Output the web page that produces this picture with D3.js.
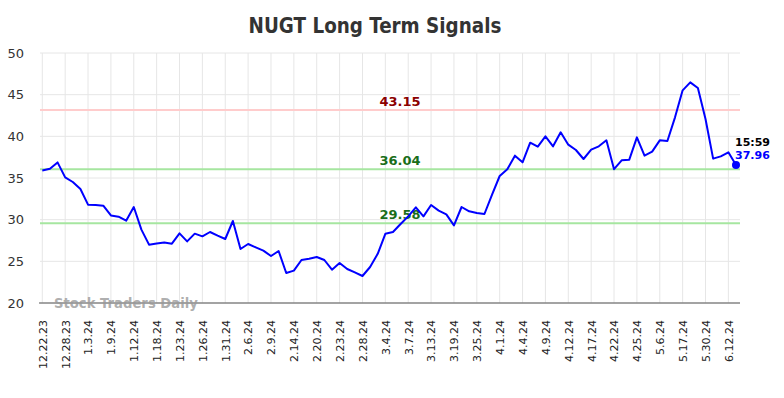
<!DOCTYPE html>
<html>
<head>
<meta charset="utf-8">
<script src="https://cdn.jsdelivr.net/npm/d3@7/dist/d3.min.js"></script>
<style>
  html, body { margin: 0; padding: 0; background: #fff; }
  svg { display: block; }
</style>
</head>
<body>
<svg id="chart" width="784" height="398"></svg>
<script>
const tickLabels = ["12.22.23","12.28.23","1.3.24","1.9.24","1.12.24","1.18.24","1.23.24","1.26.24","1.31.24","2.6.24","2.9.24","2.14.24","2.20.24","2.23.24","2.28.24","3.4.24","3.7.24","3.13.24","3.19.24","3.25.24","4.1.24","4.4.24","4.9.24","4.12.24","4.17.24","4.22.24","4.25.24","5.6.24","5.17.24","5.30.24","6.12.24"];
const prices = [35.91,36.12,36.87,35.07,34.52,33.68,31.80,31.76,31.68,30.51,30.36,29.88,31.52,28.80,27.00,27.15,27.27,27.12,28.35,27.39,28.32,28.00,28.52,28.08,27.68,29.84,26.48,27.08,26.67,26.28,25.64,26.24,23.60,23.88,25.16,25.32,25.52,25.16,24.00,24.80,24.08,23.67,23.24,24.32,25.90,28.30,28.52,29.48,30.40,31.48,30.40,31.76,31.08,30.64,29.32,31.52,31.00,30.80,30.68,33.00,35.24,36.04,37.68,36.88,39.24,38.76,40.00,38.80,40.48,39.00,38.36,37.28,38.40,38.80,39.52,36.06,37.12,37.20,39.88,37.68,38.16,39.52,39.44,42.28,45.52,46.48,45.80,42.08,37.32,37.60,38.08,36.56];
const yTicks = [20,25,30,35,40,45,50];
const levels = [
  {value: 43.15, line: "#ffcccc", text: "#8b0000"},
  {value: 36.04, line: "#a6e6a0", text: "#1a6e1a"},
  {value: 29.58, line: "#a6e6a0", text: "#1a6e1a"}
];
const lastTime = "15:59";
const lastLabel = "37.96";
const tickEvery = 3;

(function () {
const svg = d3.select("#chart");
const pLeft = 40, pRight = 740, pTop = 53, pBottom = 303;
const x = d3.scaleLinear().domain([0, prices.length - 1]).range([42.3, 736]);
const y = d3.scaleLinear().domain([20, 50]).range([pBottom, pTop]);

// title
svg.append("text").attr("x", 375).attr("y", 33).attr("text-anchor", "middle")
  .attr("font-family", "DejaVu Sans Condensed, DejaVu Sans").attr("font-weight", "bold")
  .attr("font-stretch", "condensed")
  .attr("font-size", 20.4).attr("fill", "#333").text("NUGT Long Term Signals");

// horizontal grid
svg.append("g").selectAll("line").data(yTicks).join("line")
  .attr("x1", pLeft).attr("x2", pRight)
  .attr("y1", d => y(d)).attr("y2", d => y(d))
  .attr("stroke", "#e6e6e6").attr("stroke-width", 1);

// vertical grid
const tickIdx = tickLabels.map((_, i) => i * tickEvery);
svg.append("g").selectAll("line").data(tickIdx).join("line")
  .attr("x1", d => x(d)).attr("x2", d => x(d))
  .attr("y1", pTop).attr("y2", pBottom)
  .attr("stroke", "#e6e6e6").attr("stroke-width", 1);

// y axis labels
const yAxis = d3.axisLeft(y).tickValues(yTicks).tickSize(0).tickPadding(0);
const gy = svg.append("g").attr("transform", `translate(24,0)`).call(yAxis);
gy.select(".domain").remove();
gy.selectAll("text").attr("font-family", "DejaVu Sans").attr("font-size", 13).attr("fill", "#333");

// x axis
const xAxis = d3.axisBottom(x).tickValues(tickIdx).tickFormat((d, i) => tickLabels[i]).tickSize(0).tickPadding(0);
const gx = svg.append("g").attr("transform", `translate(0,${pBottom})`).call(xAxis);
gx.select(".domain").remove();
gx.selectAll("text")
  .attr("font-family", "DejaVu Sans").attr("font-size", 11).attr("fill", "#222")
  .attr("text-anchor", "end").attr("dy", "0.35em")
  .attr("transform", "translate(0,17) rotate(-90)").attr("x", 0).attr("y", 0);

// axis baseline
svg.append("line").attr("x1", pLeft - 1).attr("x2", pRight).attr("y1", pBottom).attr("y2", pBottom)
  .attr("stroke", "#555").attr("stroke-width", 1.2);

// level lines
svg.append("g").selectAll("line").data(levels).join("line")
  .attr("x1", pLeft).attr("x2", pRight)
  .attr("y1", d => y(d.value)).attr("y2", d => y(d.value))
  .attr("stroke", d => d.line).attr("stroke-width", 2);
svg.append("g").selectAll("text").data(levels).join("text")
  .attr("x", 400).attr("y", d => y(d.value) - 4).attr("text-anchor", "middle")
  .attr("font-family", "DejaVu Sans").attr("font-weight", "bold").attr("font-size", 13)
  .attr("fill", d => d.text).text(d => d.value.toFixed(2));

// watermark
svg.append("text").attr("x", 54).attr("y", 308)
  .attr("font-family", "DejaVu Sans").attr("font-weight", "bold").attr("font-size", 13.2)
  .attr("fill", "#999").attr("fill-opacity", 0.8).text("Stock Traders Daily");

// price line
const line = d3.line().x((d, i) => x(i)).y(d => y(d));
svg.append("path").datum(prices).attr("d", line)
  .attr("fill", "none").attr("stroke", "#0000ff").attr("stroke-width", 2).attr("stroke-linejoin", "round");

// last point
const li = prices.length - 1;
svg.append("circle").attr("cx", x(li)).attr("cy", y(prices[li])).attr("r", 4).attr("fill", "#0000ff");
svg.append("text").attr("x", 735).attr("y", 146)
  .attr("font-family", "DejaVu Sans").attr("font-weight", "bold").attr("font-size", 11)
  .attr("fill", "#000").text(lastTime);
svg.append("text").attr("x", 735).attr("y", 159)
  .attr("font-family", "DejaVu Sans").attr("font-weight", "bold").attr("font-size", 11)
  .attr("fill", "#0000ff").text(lastLabel);
})();
</script>
</body>
</html>
